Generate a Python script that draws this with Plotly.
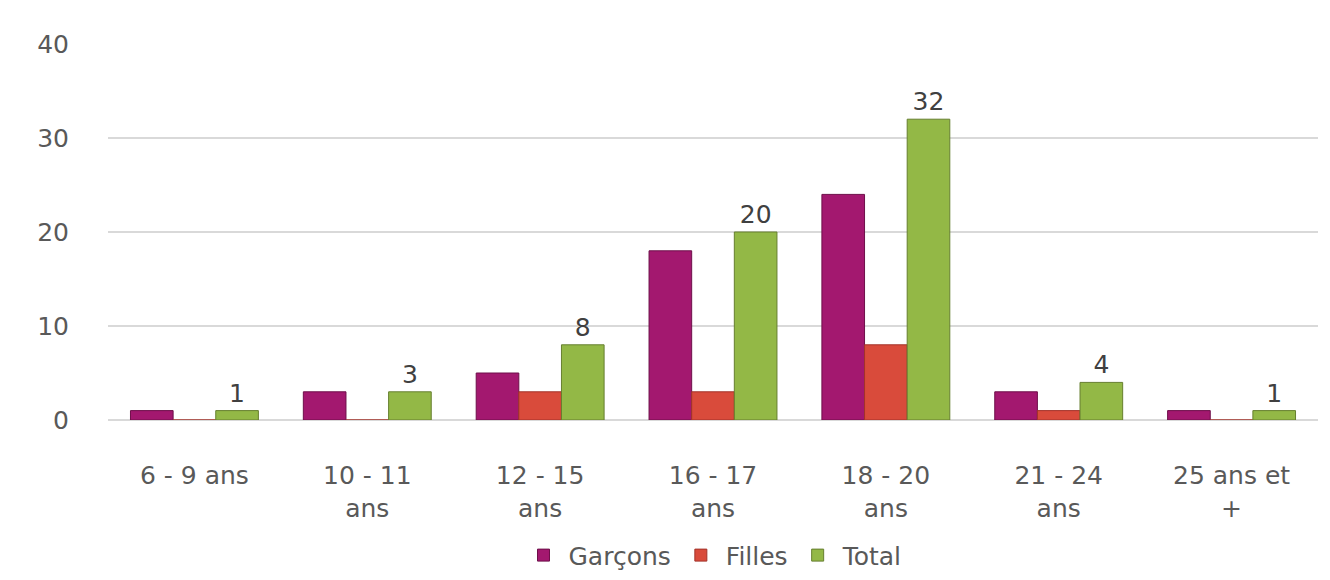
"""Répartition par tranche d'âge : Garçons / Filles / Total."""

import plotly.graph_objects as go

CATEGORIES = [
    "6 - 9 ans",
    "10 - 11<br>ans",
    "12 - 15<br>ans",
    "16 - 17<br>ans",
    "18 - 20<br>ans",
    "21 - 24<br>ans",
    "25 ans et<br>+",
]
GARCONS = [1, 3, 5, 18, 24, 3, 1]
FILLES = [0, 0, 3, 3, 8, 1, 0]
TOTAL = [1, 3, 8, 20, 32, 4, 1]

Y_TICKS = [0, 10, 20, 30, 40]

SERIES = [
    # (name, values, fill, edge, show labels)
    ("Garçons", GARCONS, "#A3186F", "#6E0F4A", False),
    ("Filles", FILLES, "#D94B3B", "#A3332A", False),
    ("Total", TOTAL, "#93B846", "#667F2F", True),
]

FONT = "'DejaVu Sans', sans-serif"
TXT = 25

fig = go.Figure()

for name, vals, fill, edge, labels in SERIES:
    fig.add_trace(
        go.Bar(
            x=CATEGORIES,
            y=vals,
            name=name,
            marker=dict(color=fill, line=dict(color=edge, width=1)),
            text=vals if labels else None,
            textposition="outside" if labels else "none",
            textfont=dict(size=TXT, color="#404040", family=FONT),
            cliponaxis=False,
        )
    )

fig.update_layout(
    width=1330,
    height=580,
    barmode="group",
    bargap=0.26,
    bargroupgap=0,
    plot_bgcolor="white",
    paper_bgcolor="white",
    font=dict(family=FONT, size=TXT, color="#595959"),
    margin=dict(l=100, r=20, t=36, b=168, autoexpand=False),
    showlegend=True,
    legend=dict(
        orientation="h",
        x=0.5,
        xanchor="center",
        y=-0.36,
        yanchor="middle",
        font=dict(size=TXT, color="#595959"),
        itemwidth=40,
        traceorder="normal",
    ),
)

fig.update_xaxes(
    showgrid=False,
    showline=False,
    tickfont=dict(size=TXT, color="#595959"),
    ticklabelstandoff=38,
)

fig.update_yaxes(
    range=[0, 40],
    tickvals=Y_TICKS,
    showgrid=True,
    gridcolor="#D9D9D9",
    gridwidth=2,
    zeroline=True,
    zerolinecolor="#D9D9D9",
    zerolinewidth=2,
    tickfont=dict(size=TXT, color="#595959"),
    ticklabelstandoff=38,
)

fig.write_html("out.html")
